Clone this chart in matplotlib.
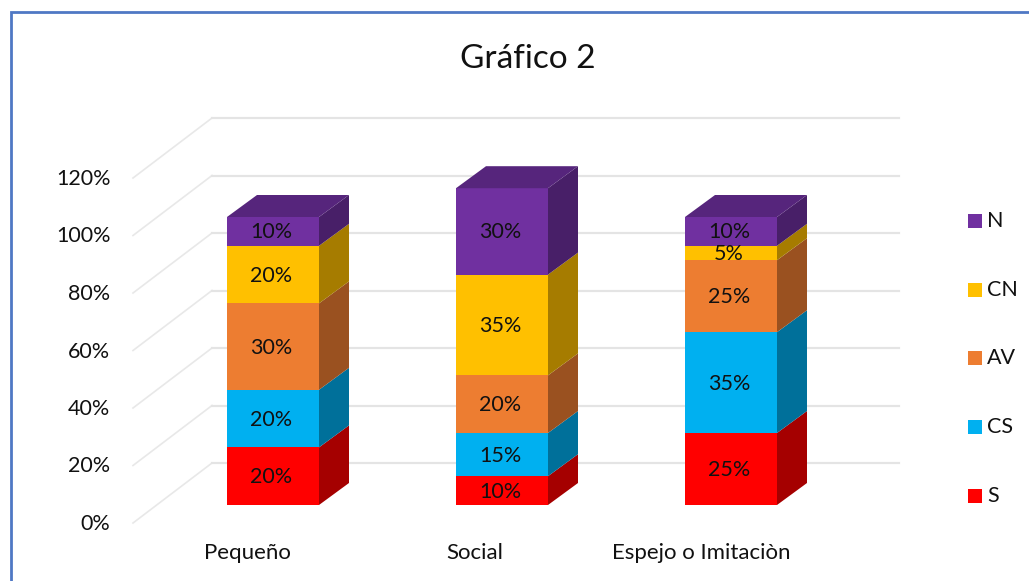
import matplotlib
matplotlib.use('Agg')
import matplotlib.pyplot as plt
from matplotlib.patches import Rectangle

categories = ['Pequeño', 'Social', 'Espejo o Imitaciòn']
series_names = ['S', 'CS', 'AV', 'CN', 'N']
s_values = [20, 10, 25]
cs_values = [20, 15, 35]
av_values = [30, 20, 25]
cn_values = [20, 35, 5]
n_values = [10, 30, 10]
y_ticks = [0, 20, 40, 60, 80, 100, 120]

front_colors = ['#FF0000', '#00B0F0', '#ED7D31', '#FFC000', '#7030A0']
side_colors = ['#A50000', '#00709A', '#9A5120', '#A67C00', '#481F68']
top_color = '#56257C'
cat_label_px = [247.5, 475, 701]

# pixel layout of the picture
W, H = 1029, 581
X0, XSTEP = 273, 229     # pixel of first category, pixels per category
Y0, YSTEP = 505, 2.88    # pixel of 0 on front of bars, pixels per percent
GRID_STEP = 2.875

def px(x):
    return (x - X0) / XSTEP

def py(y):
    return (Y0 - y) / YSTEP

bar_w = 92 / XSTEP
depth_x = 30 / XSTEP
depth_y = 22 / YSTEP

plt.rcParams['font.family'] = ['Lato', 'DejaVu Sans']
fig = plt.figure(figsize=(W / 100, H / 100), dpi=100)
ax = fig.add_axes([0, 0, 1, 1])
ax.set_xlim(px(0), px(W))
ax.set_ylim(py(H), py(0))
ax.axis('off')

# border of the slide
ax.plot([px(11), px(11), px(W)], [py(H), py(12), py(12)], color='#4F78C4', lw=2, solid_joinstyle='miter')

ax.text(px(527.5), py(59), 'Gráfico 2', fontsize=24, ha='center', va='center', color='#111111')

# back wall and side wall
for t in y_ticks:
    y_front = py(523) + t * GRID_STEP / YSTEP
    y_back = py(463) + t * GRID_STEP / YSTEP
    ax.plot([px(133), px(212)], [y_front, y_back], color='#E8E8E8', lw=1.2, zorder=1)
    ax.plot([px(212), px(899)], [y_back, y_back], color='#E4E4E4', lw=1.6, zorder=1)
    ax.text(px(110.5), y_front + 1 / YSTEP, f'{t}%', fontsize=15.5, ha='right', va='center_baseline', color='#111111')

stacks = [s_values, cs_values, av_values, cn_values, n_values]
for i in range(len(categories)):
    left = i - bar_w / 2
    right = i + bar_w / 2
    bottom = 0
    for j, vals in enumerate(stacks):
        top = bottom + vals[i]
        ax.fill([left, right, right, left], [bottom, bottom, top, top], color=front_colors[j], lw=0, zorder=3)
        ax.fill([right, right + depth_x, right + depth_x, right],
                [bottom, bottom + depth_y, top + depth_y, top], color=side_colors[j], lw=0, zorder=3)
        ax.text(i - 2 / XSTEP, (bottom + top) / 2 + 1 / YSTEP, f'{vals[i]}%', fontsize=15.5, ha='center',
                va='center_baseline', color='#111111', zorder=4)
        bottom = top
    ax.fill([left, right, right + depth_x, left + depth_x], [bottom, bottom, bottom + depth_y, bottom + depth_y],
            color=top_color, lw=0, zorder=3)
    ax.text(px(cat_label_px[i]), py(553), categories[i], fontsize=16, ha='center', va='center', color='#111111')

# legend, top entry is the last series
for k, name in enumerate(series_names[::-1]):
    yc = 221 + k * 68.7
    color = front_colors[::-1][k]
    ax.add_patch(Rectangle((px(968), py(yc + 7)), 14 / XSTEP, 14 / YSTEP, color=color, lw=0))
    ax.text(px(987), py(yc - 2), name, fontsize=15.5, ha='left', va='center_baseline', color='#111111')

fig.savefig('out.png', dpi=100)
